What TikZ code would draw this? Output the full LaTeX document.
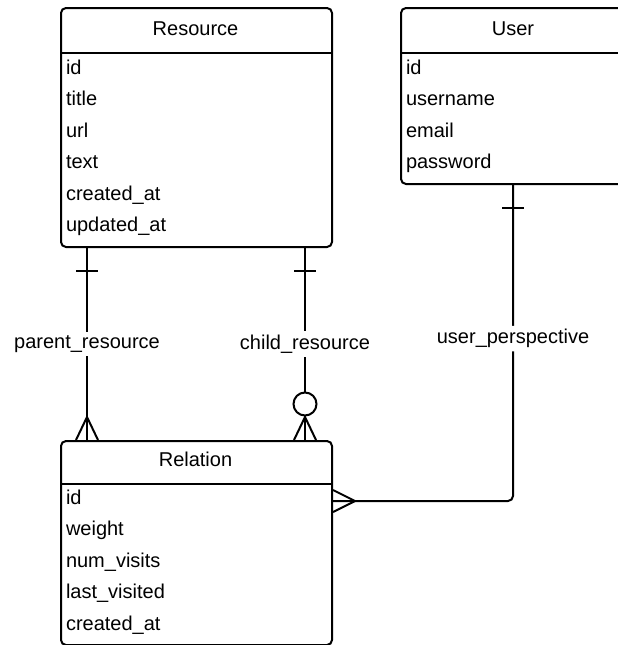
\documentclass[tikz,border=0pt]{standalone}
\usepackage{fontspec}
\setmainfont{Liberation Sans}
\begin{document}
\begin{tikzpicture}[
    x=1pt, y=-1pt,
    line width=2pt,
    font=\fontsize{20}{24}\selectfont,
    entity/.style={draw, rounded corners=5pt, anchor=north west, inner sep=0pt},
    title/.style={anchor=base, inner sep=0pt},
    field/.style={anchor=base west, inner sep=0pt},
    rolename/.style={fill=white, inner sep=3.5pt},
  ]
  \clip (0,0) rectangle (618,645);

  % ---------- Resource ----------
  \node[entity, minimum width=271pt, minimum height=239pt] (res) at (60,7) {};
  \node[title] (resT) at (195.5,35) {Resource};
  \draw ([yshift=-46pt]res.north west) -- ([yshift=-46pt]res.north east);
  \node[field] (res1) at (65,74)    {id};
  \node[field] (res2) at (65,105.5) {title};
  \node[field] (res3) at (65,137)   {url};
  \node[field] (res4) at (65,168.5) {text};
  \node[field] (res5) at (65,200)   {created\_at};
  \node[field] (res6) at (65,231.5) {updated\_at};

  % ---------- User ----------
  \node[entity, minimum width=260pt, minimum height=176pt] (usr) at (400,7) {};
  \node[title] (usrT) at (513,35) {User};
  \draw ([yshift=-46pt]usr.north west) -- ([yshift=-46pt]usr.north east);
  \node[field] (usr1) at (405,74)    {id};
  \node[field] (usr2) at (405,105.5) {username};
  \node[field] (usr3) at (405,137)   {email};
  \node[field] (usr4) at (405,168.5) {password};

  % ---------- Relation ----------
  \node[entity, minimum width=271pt, minimum height=204pt] (rel) at (60,440) {};
  \node[title] (relT) at (195.5,466) {Relation};
  \draw ([yshift=-44pt]rel.north west) -- ([yshift=-44pt]rel.north east);
  \node[field] (rel1) at (65,504)   {id};
  \node[field] (rel2) at (65,535.5) {weight};
  \node[field] (rel3) at (65,567)   {num\_visits};
  \node[field] (rel4) at (65,598.5) {last\_visited};
  \node[field] (rel5) at (65,630)   {created\_at};

  % ---------- connector end points ----------
  \coordinate (pTop) at (res.south west -| 87,0);
  \coordinate (pBot) at (rel.north west -| 87,0);
  \coordinate (cTop) at (res.south west -| 305,0);
  \coordinate (cBot) at (rel.north west -| 305,0);
  \coordinate (uTop) at (usr.south west -| 513,0);
  \coordinate (uBend) at (513,501);
  \coordinate (uEnd) at (rel.north east |- uBend);

  % parent_resource: one to many
  \draw (pTop) -- node[rolename] (pLab) {parent\_resource} (pBot);
  \draw ([xshift=-11pt,yshift=-23pt]pTop) -- ([xshift=11pt,yshift=-23pt]pTop);
  \draw ([xshift=-11pt]pBot) -- ([yshift=23pt]pBot) -- ([xshift=11pt]pBot);

  % child_resource: one to zero-or-many
  \draw (cTop) -- node[rolename] (cLab) {child\_resource} (cBot);
  \draw ([xshift=-11pt,yshift=-23pt]cTop) -- ([xshift=11pt,yshift=-23pt]cTop);
  \draw[fill=white] ([yshift=36pt]cBot) circle[radius=11.5pt];
  \draw ([xshift=-11pt]cBot) -- ([yshift=23pt]cBot) -- ([xshift=11pt]cBot);

  % user_perspective: one to many
  \draw[rounded corners=5pt] (uTop) -- node[rolename, pos=0.486] (uLab) {user\_perspective} (uBend) -- (uEnd);
  \draw ([xshift=-11pt,yshift=-23pt]uTop) -- ([xshift=11pt,yshift=-23pt]uTop);
  \draw ([yshift=-11pt]uEnd) -- ([xshift=22pt]uEnd) -- ([yshift=11pt]uEnd);
\end{tikzpicture}
\end{document}
